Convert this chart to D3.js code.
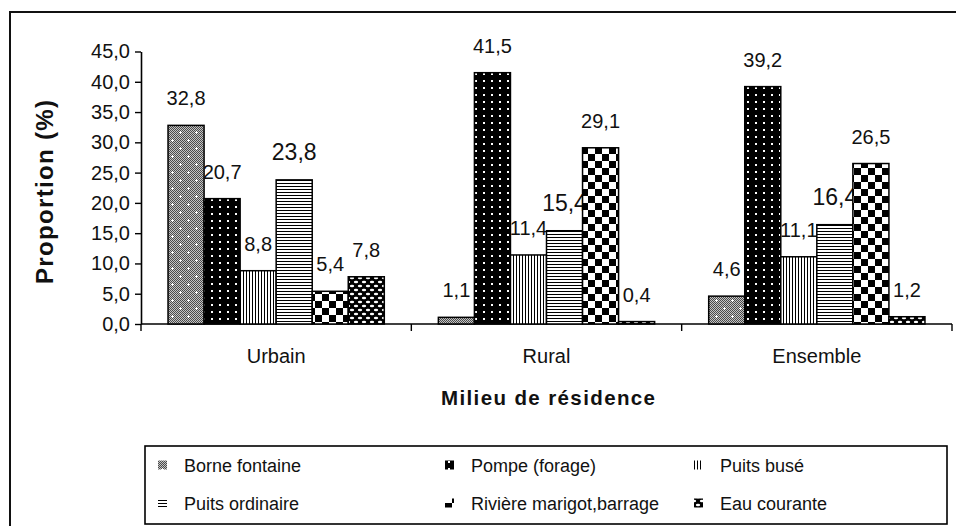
<!DOCTYPE html>
<html>
<head>
<meta charset="utf-8">
<script src="https://cdn.jsdelivr.net/npm/d3@7"></script>
<style>
  html, body { margin: 0; padding: 0; background: #fff; }
  svg { display: block; font-family: "Liberation Sans", Arial, sans-serif; }
</style>
</head>
<body>
<svg id="chart" width="956" height="526"></svg>
<script>
// Source d'approvisionnement en eau selon le milieu de résidence (%)
const categories = ["Urbain", "Rural", "Ensemble"];
const seriesNames = ["Borne fontaine", "Pompe (forage)", "Puits busé",
                     "Puits ordinaire", "Rivière marigot,barrage", "Eau courante"];
const borneFontaine  = [32.8, 1.1, 4.6];
const pompeForage    = [20.7, 41.5, 39.2];
const puitsBuse      = [8.8, 11.4, 11.1];
const puitsOrdinaire = [23.8, 15.4, 16.4];
const riviere        = [5.4, 29.1, 26.5];
const eauCourante    = [7.8, 0.4, 1.2];
const yTicks = [0, 5, 10, 15, 20, 25, 30, 35, 40, 45];

const seriesValues = [borneFontaine, pompeForage, puitsBuse, puitsOrdinaire, riviere, eauCourante];

const svg = d3.select("#chart");
const frFormat = d3.formatLocale({ decimal: ",", thousands: " ", grouping: [3], currency: ["", " €"] }).format(".1f");

// Plot frame
const plot = { left: 141, right: 952, top: 51.5, bottom: 324 };

const x0 = d3.scaleBand().domain(categories).range([plot.left, plot.right]).padding(0);
const x1 = d3.scaleBand().domain(d3.range(seriesNames.length)).range([0, x0.bandwidth()])
  .paddingInner(0).paddingOuter(0.75);
const y = d3.scaleLinear().domain([0, 45]).range([plot.bottom, plot.top]);

// ---- Fill patterns (monochrome hatchings) ----
const defs = svg.append("defs");
function pattern(id, w, h) {
  return defs.append("pattern").attr("id", id)
    .attr("patternUnits", "userSpaceOnUse").attr("width", w).attr("height", h);
}
// Borne fontaine: fine grey stipple with white crosses
{
  const p = pattern("p0", 16, 16);
  p.append("rect").attr("width", 16).attr("height", 16).attr("fill", "#c4c4c4");
  for (let i = 0; i < 16; i++) for (let j = 0; j < 16; j++) {
    if ((i + j) % 2 === 0)
      p.append("rect").attr("x", i).attr("y", j).attr("width", 1).attr("height", 1).attr("fill", "#4a4a4a");
  }
  [[4, 4], [12, 12]].forEach(([cx, cy]) => {
    p.append("rect").attr("x", cx - 1).attr("y", cy).attr("width", 3).attr("height", 1).attr("fill", "#fff");
    p.append("rect").attr("x", cx).attr("y", cy - 1).attr("width", 1).attr("height", 3).attr("fill", "#fff");
  });
}
// Pompe: black with white dots
{
  const p = pattern("p1", 8, 7);
  p.append("rect").attr("width", 8).attr("height", 7).attr("fill", "#000");
  p.append("rect").attr("x", 3).attr("y", 3).attr("width", 2).attr("height", 2).attr("fill", "#fff");
}
// Puits busé: vertical lines
{
  const p = pattern("p2", 3, 4);
  p.append("rect").attr("width", 3).attr("height", 4).attr("fill", "#fff");
  p.append("rect").attr("x", 0).attr("width", 1).attr("height", 4).attr("fill", "#000");
}
// Puits ordinaire: horizontal lines
{
  const p = pattern("p3", 4, 3);
  p.append("rect").attr("width", 4).attr("height", 3).attr("fill", "#fff");
  p.append("rect").attr("y", 0).attr("width", 4).attr("height", 1).attr("fill", "#000");
}
// Rivière: large checkerboard
{
  const p = pattern("p4", 14, 14);
  p.append("rect").attr("width", 14).attr("height", 14).attr("fill", "#fff");
  p.append("rect").attr("width", 7).attr("height", 7).attr("fill", "#000");
  p.append("rect").attr("x", 7).attr("y", 7).attr("width", 7).attr("height", 7).attr("fill", "#000");
}
// Eau courante: black with white scales
{
  const p = pattern("p5", 8, 8);
  p.append("rect").attr("width", 8).attr("height", 8).attr("fill", "#000");
  [[4, 2], [0, 6], [8, 6]].forEach(([cx, cy]) =>
    p.append("ellipse").attr("cx", cx).attr("cy", cy).attr("rx", 2.2).attr("ry", 1.3).attr("fill", "#fff"));
}

// ---- Outer frame ----
svg.append("path").attr("d", "M10,526V12H956").attr("fill", "none")
  .attr("stroke", "#111").attr("stroke-width", 2);

// ---- Axes ----
const yAxis = svg.append("g").attr("transform", `translate(${plot.left},0)`)
  .call(d3.axisLeft(y).tickValues(yTicks).tickFormat(frFormat).tickSize(6).tickSizeOuter(0).tickPadding(5));
yAxis.select(".domain").attr("stroke", "#000").attr("stroke-width", 1.6);
yAxis.selectAll(".tick line").attr("stroke", "#000").attr("stroke-width", 1.4);
yAxis.selectAll(".tick text").attr("font-size", 20).attr("fill", "#111")
  .attr("font-family", "Liberation Sans, Arial, sans-serif");

// category axis line with boundary ticks
const xAxis = svg.append("g");
xAxis.append("line").attr("x1", plot.left).attr("x2", plot.right)
  .attr("y1", y(0)).attr("y2", y(0)).attr("stroke", "#000").attr("stroke-width", 1.6);
const bounds = [x0.range()[0]].concat(categories.map(c => x0(c) + x0.bandwidth()));
xAxis.selectAll("line.bt").data(bounds).join("line").attr("class", "bt")
  .attr("x1", d => d).attr("x2", d => d).attr("y1", y(0)).attr("y2", y(0) + 7)
  .attr("stroke", "#000").attr("stroke-width", 1.4);
xAxis.selectAll("text").data(categories).join("text")
  .attr("x", d => x0(d) + x0.bandwidth() / 2).attr("y", 363)
  .attr("text-anchor", "middle").attr("font-size", 20).attr("fill", "#111")
  .text(d => d);

// ---- Bars and value labels, drawn series by series ----
const groups = svg.append("g");
seriesValues.forEach((vals, s) => {
  const g = groups.append("g");
  g.selectAll("rect").data(vals).join("rect")
    .attr("x", (d, i) => x0(categories[i]) + x1(s))
    .attr("y", d => y(d))
    .attr("width", x1.bandwidth())
    .attr("height", d => y(0) - y(d))
    .attr("fill", `url(#p${s})`)
    .attr("stroke", "#000").attr("stroke-width", 1.5);
  g.selectAll("text").data(vals).join("text")
    .attr("x", (d, i) => x0(categories[i]) + x1(s) + x1.bandwidth() / 2)
    .attr("y", d => y(d) - 20)
    .attr("text-anchor", "middle")
    .attr("font-size", s === 3 ? 23 : 20)
    .attr("fill", "#111")
    .text(d => frFormat(d));
});

// ---- Axis titles ----
svg.append("text")
  .attr("transform", `translate(53,${192}) rotate(-90)`)
  .attr("text-anchor", "middle").attr("font-weight", "bold").attr("font-size", 24)
  .attr("textLength", 184).attr("lengthAdjust", "spacing")
  .attr("fill", "#111").text("Proportion (%)");
svg.append("text")
  .attr("x", 548).attr("y", 405)
  .attr("text-anchor", "middle").attr("font-weight", "bold").attr("font-size", 20.5)
  .attr("textLength", 214).attr("lengthAdjust", "spacing")
  .attr("fill", "#111").text("Milieu de résidence");

// ---- Legend ----
const legend = svg.append("g");
legend.append("rect").attr("x", 145).attr("y", 446).attr("width", 802).attr("height", 78)
  .attr("fill", "#fff").attr("stroke", "#000").attr("stroke-width", 1.6);
const colX = [158, 445, 694];
const rowY = [465, 503];
const items = legend.selectAll("g.item").data(seriesNames).join("g").attr("class", "item")
  .attr("transform", (d, i) => `translate(${colX[i % 3]},${rowY[Math.floor(i / 3)]})`);
items.append("rect").attr("x", 0).attr("y", -4.5).attr("width", 9).attr("height", 9)
  .attr("fill", (d, i) => `url(#p${i})`);
items.append("text").attr("x", 26).attr("y", 6.5).attr("font-size", 18).attr("fill", "#111")
  .text(d => d);
</script>
</body>
</html>
